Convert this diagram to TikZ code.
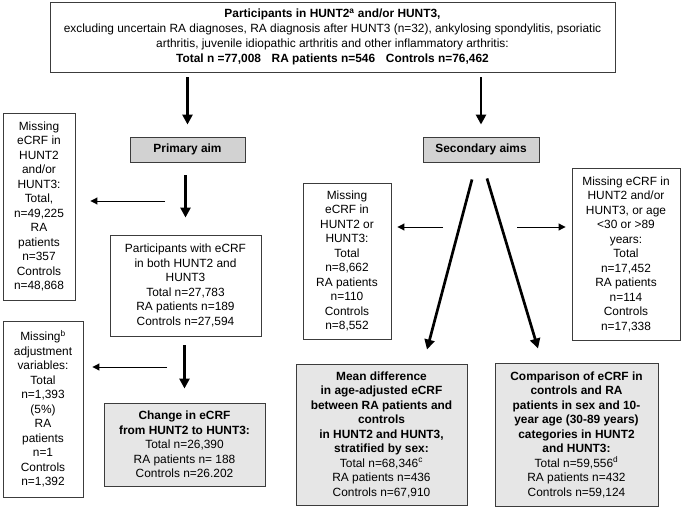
\documentclass[tikz,border=0pt]{standalone}
\usepackage{fontspec}
\setmainfont{Liberation Sans}
\usetikzlibrary{arrows.meta}
\definecolor{aimgray}{RGB}{210,210,210}
\definecolor{resgray}{RGB}{230,230,230}
\definecolor{framegray}{RGB}{60,60,60}
\begin{document}
\begin{tikzpicture}[%
x=1pt, y=-1pt,
box/.style={draw=framegray, line width=0.9pt, align=center, inner sep=2pt,
  font=\fontsize{11.9}{14.5}\selectfont},
aimbox/.style={box, fill=aimgray, font=\fontsize{11.9}{14.5}\selectfont\bfseries},
resbox/.style={box, fill=resgray},
bigarrow/.style={line width=2.7pt, -{Triangle[length=10pt,width=10pt]}},
smallarrow/.style={line width=1pt, -{Triangle[length=7pt,width=7pt]}},
]
\useasboundingbox (0,0) rectangle (685,508);
%% box;
\node [box, minimum width=565pt, minimum height=70pt,
  font=\fontsize{11.9}{15}\selectfont] (top) at (332.5,37)
  {\textbf{Participants in HUNT2\textsuperscript{a} and/or HUNT3,}\\
   excluding uncertain RA diagnoses, RA diagnosis after HUNT3 (n=32), ankylosing spondylitis, psoriatic\\
   arthritis, juvenile idiopathic arthritis and other inflammatory arthritis:\\
   \textbf{Total n =77,008\hspace{0.9em}RA patients n=546\hspace{0.9em}Controls n=76,462}};
%% aims;
\node [aimbox, minimum width=115pt, minimum height=25pt] (primary) at (187.5,149.5) {Primary aim};
\node [aimbox, minimum width=116pt, minimum height=25pt] (secondary) at (481,149.5) {Secondary aims};
%% box;
\node [box, minimum width=72pt, minimum height=187pt] (missA) at (39,206.5)
  {Missing\\eCRF in\\HUNT2\\and/or\\HUNT3:\\Total,\\n=49,225\\RA\\patients\\n=357\\Controls\\n=48,868};
\node [box, minimum width=151pt, minimum height=101pt] (both) at (185.5,285.5)
  {Participants with eCRF\\in both HUNT2 and\\HUNT3\\Total n=27,783\\RA patients n=189\\Controls n=27,594};
\node [box, minimum width=80pt, minimum height=176pt] (adjust) at (43,409)
  {Missing\textsuperscript{b}\\adjustment\\variables:\\Total\\n=1,393\\(5\%)\\RA\\patients\\n=1\\Controls\\n=1,392};
\node [box, minimum width=88pt, minimum height=156pt] (missB) at (347,261)
  {Missing\\eCRF in\\HUNT2 or\\HUNT3:\\Total\\n=8,662\\RA patients\\n=110\\Controls\\n=8,552};
\node [box, minimum width=108pt, minimum height=172pt] (missC) at (626,254)
  {Missing eCRF in\\HUNT2 and/or\\HUNT3, or age\\<30 or >89\\years:\\Total\\n=17,452\\RA patients\\n=114\\Controls\\n=17,338};
%% results;
\node [resbox, minimum width=161pt, minimum height=83pt] (change) at (184.5,444.5)
  {\textbf{Change in eCRF}\\\textbf{from HUNT2 to HUNT3:}\\Total n=26,390\\RA patients n= 188\\Controls n=26.202};
\node [resbox, minimum width=171pt, minimum height=141pt] (meandiff) at (381.5,434.5)
  {\textbf{Mean difference}\\\textbf{in age-adjusted eCRF}\\\textbf{between RA patients and}\\\textbf{controls}\\
   \textbf{in HUNT2 and HUNT3,}\\\textbf{stratified by sex:}\\Total n=68,346\textsuperscript{c}\\RA patients n=436\\Controls n=67,910};
\node [resbox, minimum width=163pt, minimum height=143pt] (compare) at (576.5,434.5)
  {\textbf{Comparison of eCRF in}\\\textbf{controls and RA}\\\textbf{patients in sex and 10-}\\\textbf{year age (30-89 years)}\\
   \textbf{categories in HUNT2}\\\textbf{and HUNT3:}\\Total n=59,556\textsuperscript{d}\\RA patients n=432\\Controls n=59,124};
%% arrow;
\draw [bigarrow, shorten <=5pt, shorten >=12pt] (top.south -| primary.north) -- (primary.north);
\draw [bigarrow, shorten <=5pt, shorten >=12pt] (top.south -| secondary.north) -- (secondary.north);
\draw [bigarrow, shorten <=13pt, shorten >=17pt] (primary.south -| both.north) -- (both.north);
\draw [bigarrow, shorten <=9pt, shorten >=14pt] (both.south -| change.north) -- (change.north);
\draw [bigarrow] ([xshift=-9pt,yshift=-17pt]secondary.south) -- ([xshift=45.5pt,yshift=14pt]meandiff.north);
\draw [bigarrow] ([xshift=6pt,yshift=-16pt]secondary.south) -- ([xshift=-38.5pt,yshift=14pt]compare.north);
%% side arrows;
\coordinate (b1) at (165,201);
\coordinate (b2) at (443,227);
\coordinate (b3) at (517,227);
\coordinate (b4) at (167,367);
\draw [smallarrow, shorten >=15pt] (b1) -- (b1 -| missA.east);
\draw [smallarrow, shorten >=6pt] (b2) -- (b2 -| missB.east);
\draw [smallarrow, shorten >=6pt] (b3) -- (b3 -| missC.west);
\draw [smallarrow, shorten >=9pt] (b4) -- (b4 -| adjust.east);
\end{tikzpicture}
\end{document}
